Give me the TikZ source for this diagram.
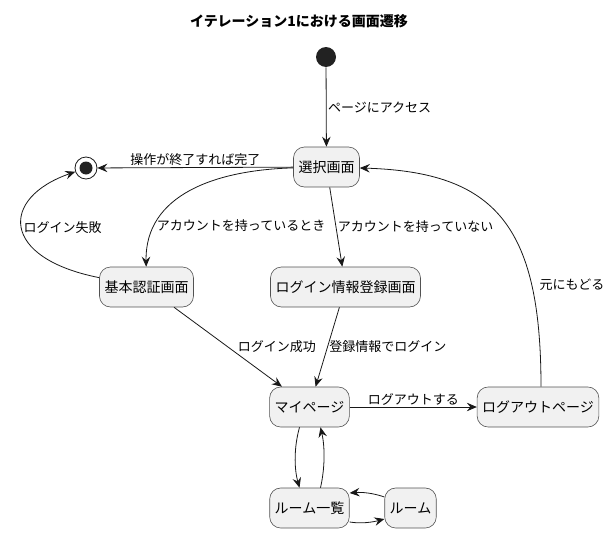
\documentclass[tikz,border=0pt]{standalone}
\usepackage{fontspec}
\setmainfont{Noto Sans CJK JP}
\usepackage{tikz}
\usetikzlibrary{arrows.meta}
\definecolor{boxfill}{HTML}{F1F1F1}
\definecolor{ink}{HTML}{181818}
\definecolor{dot}{HTML}{222222}

\begin{document}
\begin{tikzpicture}[x=1pt,y=-1pt,thick,
  >={Stealth[length=10pt,width=8.5pt,inset=3.5pt]},
  screen/.style={draw=ink!75,line width=0.6pt,fill=boxfill,rounded corners=11pt,
    minimum height=40pt,inner xsep=5pt,font=\fontsize{14}{16}\selectfont},
  startdot/.style={circle,fill=dot,minimum size=20pt,inner sep=0pt},
  enddot/.style={circle,draw=ink,line width=0.8pt,minimum size=22pt,inner sep=0pt,
    path picture={\fill[dot] (path picture bounding box.center) circle (6.5pt);}},
  lbl/.style={font=\fontsize{13}{15}\selectfont,inner sep=1.5pt,text=black},
  move/.style={->,draw=ink}]
\useasboundingbox (0,0) rectangle (611,533);
\node[font=\bfseries\fontsize{14}{16}\selectfont] (title) at (299,21) {イテレーション1における画面遷移};
\node[startdot] (start) at (326,57) {};
\node[enddot] (end) at (86,168) {};
\node[screen] (sel) at (326.5,167) {選択画面};
\node[screen] (basic) at (146.5,287) {基本認証画面};
\node[screen] (reg) at (345.5,287) {ログイン情報登録画面};
\node[screen] (mypage) at (309.5,407) {マイページ};
\node[screen] (logout) at (538,407) {ログアウトページ};
\node[screen] (rooms) at (309.5,508) {ルーム一覧};
\node[screen] (room) at (410.5,508) {ルーム};
\draw[move] (start) -- node[lbl,midway,anchor=west] {ページにアクセス} (sel);
\draw[move] (sel) -- node[lbl,midway,above] {操作が終了すれば完了} (end);
\draw[move] (sel) .. controls (215,170) and (145,195) .. node[lbl,pos=0.78,anchor=west] {アカウントを持っているとき} (basic);
\draw[move] (sel) -- node[lbl,midway,anchor=west] {アカウントを持っていない} (reg);
\draw[move] (basic) .. controls (0,258) and (0,198) .. node[lbl,pos=0.5,anchor=west] {ログイン失敗} (end);
\draw[move] (basic) -- node[lbl,pos=0.5,anchor=west,xshift=8pt] {ログイン成功} (mypage);
\draw[move] (reg) -- node[lbl,midway,anchor=west] {登録情報でログイン} (mypage);
\draw[move] (mypage) -- node[lbl,midway,above] {ログアウトする} (logout);
\draw[move] ([xshift=3pt]logout.north) .. controls (541,225) and (495,172) .. node[lbl,pos=0.25,anchor=west,xshift=6pt] {元にもどる} (sel);
\draw[move] ([xshift=-10pt]mypage.south) .. controls (294,447) and (294,468) .. ([xshift=-10pt]rooms.north);
\draw[move] ([xshift=11pt]rooms.north) .. controls (325,468) and (325,447) .. ([xshift=11pt]mypage.south);
\draw[move] ([yshift=11pt]room.west) .. controls (373,493) and (362,492) .. ([yshift=15pt]rooms.east);
\draw[move] ([yshift=-14pt]rooms.east) .. controls (362,524) and (373,522) .. ([yshift=-11pt]room.west);
\end{tikzpicture}
\end{document}
